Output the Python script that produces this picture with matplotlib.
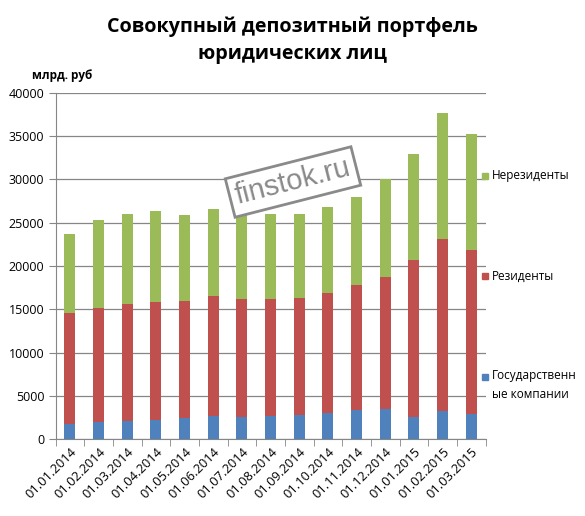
import matplotlib
matplotlib.use("Agg")
import matplotlib.pyplot as plt
import numpy as np

plt.rcParams['font.family'] = ['Open Sans', 'DejaVu Sans']

dates = ["01.01.2014", "01.02.2014", "01.03.2014", "01.04.2014", "01.05.2014",
         "01.06.2014", "01.07.2014", "01.08.2014", "01.09.2014", "01.10.2014",
         "01.11.2014", "01.12.2014", "01.01.2015", "01.02.2015", "01.03.2015"]
gov = [1800, 2000, 2100, 2270, 2500, 2730, 2580, 2730, 2840, 3040, 3420, 3500, 2610, 3270, 2960]
residents = [12780, 13150, 13510, 13570, 13460, 13810, 13610, 13460, 13460, 13840, 14380, 15230, 18080, 19840, 18880]
nonresidents = [9110, 10150, 10390, 10510, 9920, 10040, 9810, 9810, 9700, 9920, 10160, 11270, 12200, 14540, 13390]
yticks = [0, 5000, 10000, 15000, 20000, 25000, 30000, 35000, 40000]

fig = plt.figure(figsize=(5.85, 5.16), dpi=100)
ax = fig.add_axes([0.095, 0.1486, 0.735, 0.672])

x = np.arange(len(dates))
w = 0.38
c_gov, c_res, c_non = "#4F81BD", "#C0504D", "#9BBB59"
ax.bar(x, gov, w, color=c_gov, zorder=3)
ax.bar(x, residents, w, bottom=gov, color=c_res, zorder=3)
bottom3 = np.array(gov) + np.array(residents)
ax.bar(x, nonresidents, w, bottom=bottom3, color=c_non, zorder=3)

ax.set_xlim(-0.5, len(dates) - 0.5)
ax.set_ylim(0, 40000)
ax.set_yticks(yticks)
ax.set_yticklabels([str(v) for v in yticks], fontsize=9)
ax.yaxis.grid(True, color="#868686", linewidth=0.9, zorder=0)
ax.set_axisbelow(True)
for s in ["top", "right"]:
    ax.spines[s].set_visible(False)
ax.spines["left"].set_color("#868686")
ax.spines["bottom"].set_color("#868686")
ax.tick_params(axis="y", length=5, color="#868686", pad=3)

ax.set_xticks(x)
ax.set_xticklabels(dates, rotation=45, ha="right", rotation_mode="anchor", fontsize=9.3)
ax.tick_params(axis="x", length=0, pad=4)
ax.set_xticks(np.arange(-0.5, len(dates), 1), minor=True)
ax.tick_params(axis="x", which="minor", length=5, color="#868686")

fig.text(0.5, 1 - 40 / 516, "Совокупный депозитный портфель\nюридических лиц", ha="center", va="center",
         fontsize=14.2, fontweight="bold", linespacing=1.45)
fig.text(0.055, 1 - 75 / 516, "млрд. руб", fontsize=8.5, fontweight="bold", ha="left", va="center")

# legend entries
leg_items = [(c_non, "Нерезиденты", 176), (c_res, "Резиденты", 276), (c_gov, "Государственн\nые компании", 385)]
for col, lab, ypix in leg_items:
    yf = 1 - ypix / 516
    first_line_y = yf if "\n" not in lab else 1 - 377 / 516
    fig.patches.append(plt.Rectangle((482 / 585, first_line_y - 3 / 516), 6 / 585, 6 / 516,
                                     transform=fig.transFigure, color=col, figure=fig))
    fig.text(492 / 585, yf, lab, fontsize=8.5, ha="left", va="center", linespacing=1.5)

# watermark
fig.text(293 / 585, 1 - 182 / 516, "finstok.ru", fontsize=21, color="#8a8a8a", rotation=14.3,
         ha="center", va="center", family=["Liberation Sans", "DejaVu Sans"],
         bbox=dict(boxstyle="square,pad=0.2", fc="white", ec="#8a8a8a", lw=2))

fig.savefig("out.png", dpi=100)
